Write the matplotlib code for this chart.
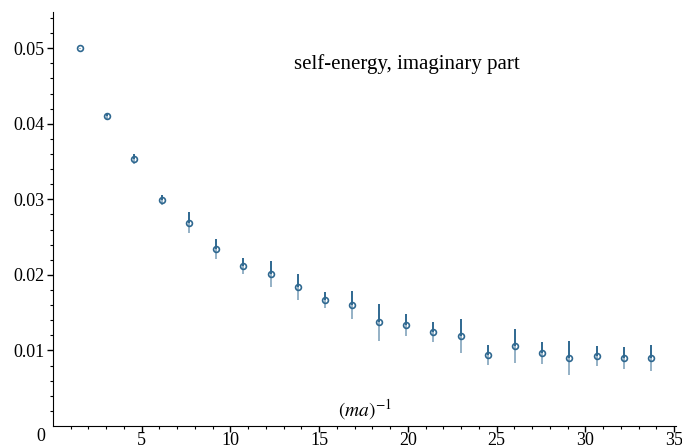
import numpy as np
import matplotlib as mpl
import matplotlib.pyplot as plt

mpl.rcParams['font.family'] = 'Liberation Serif'
mpl.rcParams['mathtext.fontset'] = 'stix'

# (ma)^-1 and the imaginary part of the self-energy
inv_ma = [1.54, 3.06, 4.59, 6.13, 7.67, 9.21, 10.73, 12.26, 13.78, 15.30, 16.85,
          18.39, 19.91, 21.43, 22.96, 24.49, 26.02, 27.56, 29.09, 30.63, 32.15, 33.69]
im_sigma = [0.0500, 0.0410, 0.0353, 0.0299, 0.0269, 0.0234, 0.0212, 0.0201,
            0.0184, 0.0167, 0.0160, 0.0137, 0.0134, 0.0124, 0.0119, 0.0094,
            0.0106, 0.0097, 0.0090, 0.0093, 0.0090, 0.0090]
err = [0.0001, 0.00046, 0.00066, 0.0007, 0.0014, 0.0013, 0.0011, 0.0017,
       0.0017, 0.00106, 0.00185, 0.00245, 0.00143, 0.00134, 0.00225, 0.00126,
       0.00225, 0.00146, 0.00225, 0.00135, 0.00152, 0.00176]

xticks = [5, 10, 15, 20, 25, 30, 35]
yticks = [0.01, 0.02, 0.03, 0.04, 0.05]

col = '#2f6890'

fig = plt.figure(figsize=(6.82, 4.48), dpi=100)
ax = fig.add_axes([53 / 682, 22 / 448, 623 / 682, 414 / 448])

x = np.array(inv_ma)
y = np.array(im_sigma)
e = np.array(err)
zero = np.zeros_like(e)

# lower half of the bars is lighter, upper half darker
ax.errorbar(x, y, yerr=[e, zero], fmt='none', ecolor=col, elinewidth=1.3,
            alpha=0.55, capsize=0)
ax.errorbar(x, y, yerr=[zero, e], fmt='none', ecolor=col, elinewidth=1.4,
            capsize=0)
ax.plot(x, y, 'o', ms=4.2, mfc='none', mec=col, mew=1.2, ls='none')

ax.set_xlim(0, 35.1)
ax.set_ylim(0, 0.0548)
ax.spines['top'].set_visible(False)
ax.spines['right'].set_visible(False)

ax.set_xticks(xticks)
ax.set_xticklabels([str(t) for t in xticks])
ax.set_xticks(np.arange(1, 36, 1), minor=True)
ax.set_yticks(yticks)
ax.set_yticklabels(['%.2f' % t for t in yticks])
ax.set_yticks(np.arange(0.002, 0.0548, 0.002), minor=True)
ax.tick_params(which='major', length=4, width=1, labelsize=13, pad=2)
ax.tick_params(axis='x', which='major', pad=0.5)
ax.tick_params(which='minor', length=2.5, width=0.8)

ax.text(-0.012, -0.005, '0', transform=ax.transAxes, ha='right', va='top',
        fontsize=13)

ax.text(0.568, 0.874, 'self-energy, imaginary part', transform=ax.transAxes,
        ha='center', va='center', fontsize=15)
ax.text(0.5, 0.04, r'$(ma)^{-1}$', transform=ax.transAxes,
        ha='center', va='center', fontsize=14)

plt.savefig('out.png', dpi=100)
